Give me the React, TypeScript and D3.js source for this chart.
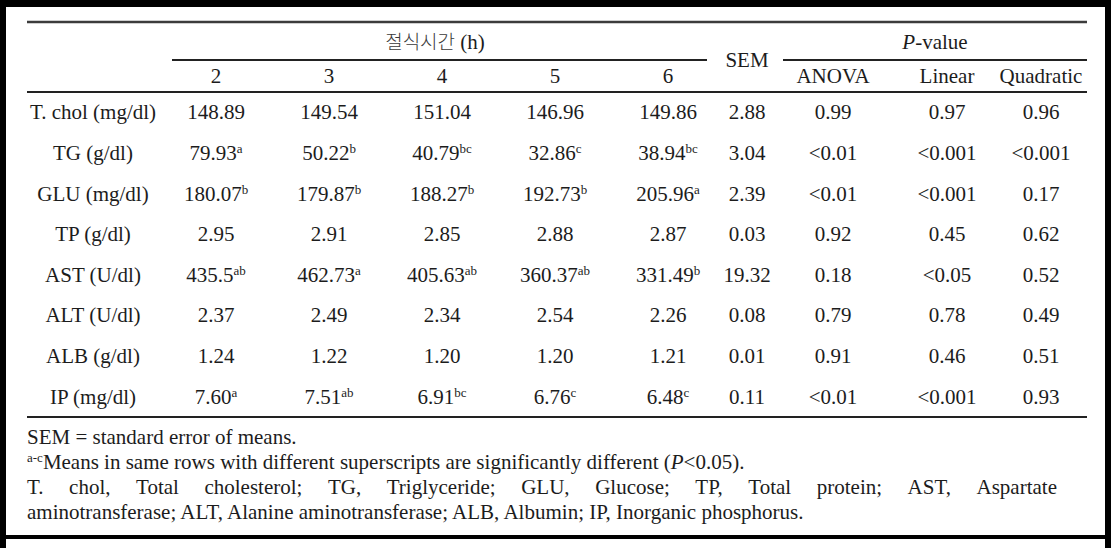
import React, { useEffect, useRef } from "react";
import * as d3 from "d3";

const rowLabels = ["T. chol (mg/dl)", "TG (g/dl)", "GLU (mg/dl)", "TP (g/dl)", "AST (U/dl)", "ALT (U/dl)", "ALB (g/dl)", "IP (mg/dl)"];
const hours = ["2", "3", "4", "5", "6"];
const means = [
  ["148.89", "149.54", "151.04", "146.96", "149.86"],
  ["79.93", "50.22", "40.79", "32.86", "38.94"],
  ["180.07", "179.87", "188.27", "192.73", "205.96"],
  ["2.95", "2.91", "2.85", "2.88", "2.87"],
  ["435.5", "462.73", "405.63", "360.37", "331.49"],
  ["2.37", "2.49", "2.34", "2.54", "2.26"],
  ["1.24", "1.22", "1.20", "1.20", "1.21"],
  ["7.60", "7.51", "6.91", "6.76", "6.48"],
];
const superscripts = [
  ["", "", "", "", ""],
  ["a", "b", "bc", "c", "bc"],
  ["b", "b", "b", "b", "a"],
  ["", "", "", "", ""],
  ["ab", "a", "ab", "ab", "b"],
  ["", "", "", "", ""],
  ["", "", "", "", ""],
  ["a", "ab", "bc", "c", "c"],
];
const sem = ["2.88", "3.04", "2.39", "0.03", "19.32", "0.08", "0.01", "0.11"];
const pAnova = ["0.99", "<0.01", "<0.01", "0.92", "0.18", "0.79", "0.91", "<0.01"];
const pLinear = ["0.97", "<0.001", "<0.001", "0.45", "<0.05", "0.78", "0.46", "<0.001"];
const pQuadratic = ["0.96", "<0.001", "0.17", "0.62", "0.52", "0.49", "0.51", "0.93"];
const groupTitleKo = "절식시간";
const groupTitleUnit = " (h)";
const pHeaders = ["ANOVA", "Linear", "Quadratic"];
const footnote1 = "SEM = standard error of means.";
const footnote2 = "Means in same rows with different superscripts are significantly different (";
const footnote3 = "T. chol, Total cholesterol; TG, Triglyceride; GLU, Glucose; TP, Total protein; AST, Aspartate";
const footnote4 = "aminotransferase; ALT, Alanine aminotransferase; ALB, Albumin; IP, Inorganic phosphorus.";

const W = 1111;
const H = 548;
const FONT = "'Liberation Serif', 'Times New Roman', 'Noto Sans CJK KR', serif";
const FS = 21;
const TXT = "#1c1c1c";

export default function App() {
  const ref = useRef<SVGSVGElement | null>(null);

  useEffect(() => {
    document.body.style.margin = "0";
    const svg = d3.select(ref.current);
    svg.selectAll("*").remove();

    svg.append("rect").attr("width", W).attr("height", H).attr("fill", "#fff");

    const left = 27, right = 1087;
    const y = d3.scaleBand<string>().domain(rowLabels).range([92, 417]);
    const xh = d3.scalePoint<string>().domain(hours).range([216, 668]);
    const xLabel = 93, xSem = 747;
    const xp = d3.scaleOrdinal<string, number>().domain(pHeaders).range([833, 947, 1041]);

    const g = svg.append("g").attr("font-family", FONT).attr("font-size", FS).attr("fill", TXT);

    // rules
    const rule = (x1: number, x2: number, yy: number, w: number, c: string) =>
      svg.append("line").attr("x1", x1).attr("x2", x2).attr("y1", yy).attr("y2", yy)
        .attr("stroke", c).attr("stroke-width", w);
    rule(left, right, 22, 2.5, "#3c3c3c");
    rule(172, 707, 60, 2, "#222");
    rule(783, right, 60, 2, "#222");
    rule(left, right, 92, 2, "#222");
    rule(left, right, 417, 2, "#222");

    // header
    const gt = g.append("text").attr("x", 435).attr("y", 49).attr("text-anchor", "middle");
    gt.append("tspan").attr("font-family", "'Noto Sans CJK KR', sans-serif").attr("font-size", 19)
      .attr("font-weight", 300).attr("fill", "#3a3a3a").text(groupTitleKo);
    gt.append("tspan").text(groupTitleUnit);
    g.append("text").attr("x", xSem).attr("y", 67).attr("text-anchor", "middle").text("SEM");
    const pv = g.append("text").attr("x", 935).attr("y", 49).attr("text-anchor", "middle");
    pv.append("tspan").attr("font-style", "italic").text("P");
    pv.append("tspan").text("-value");
    hours.forEach((h) => {
      g.append("text").attr("x", xh(h)!).attr("y", 83).attr("text-anchor", "middle").text(h);
    });
    pHeaders.forEach((h) => {
      g.append("text").attr("x", xp(h)).attr("y", 83).attr("text-anchor", "middle").text(h);
    });

    // body
    rowLabels.forEach((lab, i) => {
      const yy = y(lab)! + y.bandwidth() / 2 + 7;
      g.append("text").attr("x", xLabel).attr("y", yy).attr("text-anchor", "middle").text(lab);
      hours.forEach((h, j) => {
        const t = g.append("text").attr("x", xh(h)!).attr("y", yy).attr("text-anchor", "middle");
        t.append("tspan").text(means[i][j]);
        if (superscripts[i][j]) {
          t.append("tspan").attr("font-size", 13).attr("dy", -7).text(superscripts[i][j]);
        }
      });
      g.append("text").attr("x", xSem).attr("y", yy).attr("text-anchor", "middle").text(sem[i]);
      [pAnova, pLinear, pQuadratic].forEach((arr, k) => {
        g.append("text").attr("x", xp(pHeaders[k])).attr("y", yy).attr("text-anchor", "middle").text(arr[i]);
      });
    });

    // footnotes
    g.append("text").attr("x", left).attr("y", 444).text(footnote1);
    const f2 = g.append("text").attr("x", left).attr("y", 469);
    f2.append("tspan").attr("font-size", 13).attr("dy", -7).text("a-c");
    f2.append("tspan").attr("dy", 7).text(footnote2);
    f2.append("tspan").attr("font-style", "italic").text("P");
    f2.append("tspan").text("<0.05).");

    // justified line
    const words = footnote3.split(" ");
    const widths = words.map((w) => {
      const tmp = g.append("text").attr("x", 0).attr("y", -100).text(w);
      const len = (tmp.node() as SVGTextElement).getComputedTextLength();
      tmp.remove();
      return len;
    });
    const target = 1057 - left;
    const gap = (target - d3.sum(widths)) / (words.length - 1);
    let cx = left;
    words.forEach((w, i) => {
      g.append("text").attr("x", cx).attr("y", 494).text(w);
      cx += widths[i] + gap;
    });
    g.append("text").attr("x", left).attr("y", 519).text(footnote4);

    // frame
    svg.append("rect").attr("x", 0).attr("y", 0).attr("width", 6).attr("height", H).attr("fill", "#000");
    svg.append("rect").attr("x", 0).attr("y", 0).attr("width", W).attr("height", 7).attr("fill", "#000");
    svg.append("rect").attr("x", 1105).attr("y", 0).attr("width", 6).attr("height", H).attr("fill", "#000");
    svg.append("rect").attr("x", 0).attr("y", 535).attr("width", W).attr("height", 4).attr("fill", "#000");
  }, []);

  return <svg ref={ref} width={W} height={H} style={{ display: "block" }} />;
}
